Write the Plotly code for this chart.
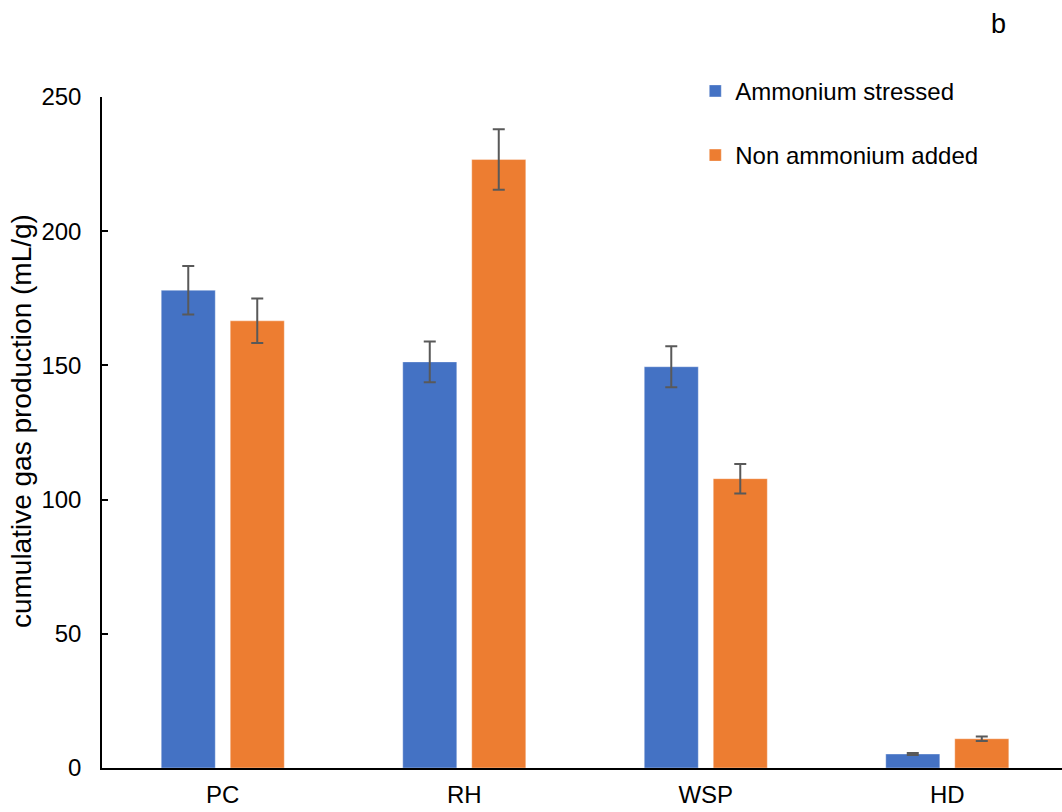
import plotly.graph_objects as go

# Substrates and cumulative gas production (mL/g) with standard deviations
categories = ["PC", "RH", "WSP", "HD"]
stressed = [178.0, 151.3, 149.5, 5.2]
stressed_err = [9.0, 7.6, 7.6, 0.4]
non_added = [166.6, 226.7, 107.8, 10.9]
non_added_err = [8.3, 11.3, 5.5, 0.8]

series_names = ["Ammonium stressed", "Non ammonium added"]
colors = ["#4472C4", "#ED7D31"]
err_color = "#595959"
font_family = "Liberation Sans, Arial, sans-serif"

fig = go.Figure()
for name, vals, errs, col, grp in [
    (series_names[0], stressed, stressed_err, colors[0], "a"),
    (series_names[1], non_added, non_added_err, colors[1], "b"),
]:
    fig.add_trace(go.Bar(
        x=categories, y=vals, name=name, legendgroup=grp,
        marker=dict(color=col, line=dict(color="rgba(255,255,255,0.35)", width=1)),
        error_y=dict(type="data", array=errs, visible=True,
                     color=err_color, thickness=2, width=6),
    ))

# panel letter
fig.add_annotation(text="b", xref="paper", yref="paper", x=0.934, y=1.109,
                   xanchor="center", yanchor="middle", showarrow=False,
                   font=dict(size=27, color="black", family=font_family))

# y-axis title
fig.add_annotation(text="cumulative gas production (mL/g)", xref="paper", yref="paper",
                   x=-0.0844, y=0.517, xanchor="center", yanchor="middle",
                   textangle=-90, showarrow=False,
                   font=dict(size=28, color="black", family=font_family))

fig.update_layout(
    width=1062, height=812,
    margin=dict(l=102, r=0, t=97, b=44),
    paper_bgcolor="white", plot_bgcolor="white",
    font=dict(family=font_family, size=24, color="black"),
    barmode="group", bargap=0.4286, bargroupgap=0.217,
    showlegend=True,
    legend=dict(x=0.618, y=1.042, xanchor="left", yanchor="top",
                traceorder="grouped", tracegroupgap=30,
                font=dict(size=24), bgcolor="rgba(0,0,0,0)"),
    xaxis=dict(range=[-0.5, 3.475], showline=True, linecolor="black", linewidth=1.5,
               ticks="", showgrid=False, tickfont=dict(size=24), ticklabelstandoff=4),
    yaxis=dict(range=[0, 250], tickvals=[0, 50, 100, 150, 200, 250],
               showline=True, linecolor="black", linewidth=1.5,
               ticks="inside", ticklen=6, tickcolor="black", tickwidth=1.5,
               showgrid=False, zeroline=False, tickfont=dict(size=24),
               ticklabelstandoff=14),
)

fig.write_html("out.html")
